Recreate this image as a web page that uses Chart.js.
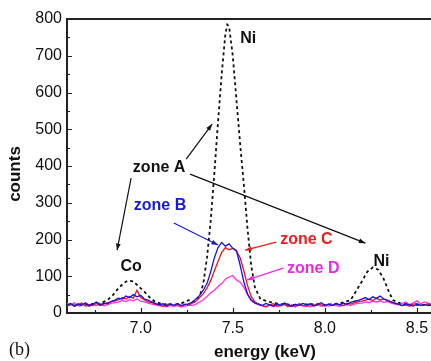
<!DOCTYPE html>
<html>
<head>
<meta charset="utf-8">
<script src="https://cdn.jsdelivr.net/npm/chart.js@4/dist/chart.umd.min.js"></script>
<style>
  html, body { margin: 0; padding: 0; background: #fff; }
  #wrap { width: 431px; height: 361px; overflow: hidden; position: relative; }
</style>
</head>
<body>
<div id="wrap"><canvas id="spectrum" width="470" height="361"></canvas></div>
<script>
// EDX spectra around the Co / Ni K lines, four zones

// energy grid (keV) for zones B, C, D
const energy = [
    6.60, 6.62, 6.64, 6.66, 6.68, 6.70, 6.72, 6.74, 6.76, 6.78,
    6.80, 6.82, 6.84, 6.86, 6.88, 6.90, 6.92, 6.94, 6.96, 6.98,
    7.00, 7.02, 7.04, 7.06, 7.08, 7.10, 7.12, 7.14, 7.16, 7.18,
    7.20, 7.22, 7.24, 7.26, 7.28, 7.30, 7.32, 7.34, 7.36, 7.38,
    7.40, 7.42, 7.44, 7.46, 7.48, 7.50, 7.52, 7.54, 7.56, 7.58,
    7.60, 7.62, 7.64, 7.66, 7.68, 7.70, 7.72, 7.74, 7.76, 7.78,
    7.80, 7.82, 7.84, 7.86, 7.88, 7.90, 7.92, 7.94, 7.96, 7.98,
    8.00, 8.02, 8.04, 8.06, 8.08, 8.10, 8.12, 8.14, 8.16, 8.18,
    8.20, 8.22, 8.24, 8.26, 8.28, 8.30, 8.32, 8.34, 8.36, 8.38,
    8.40, 8.42, 8.44, 8.46, 8.48, 8.50, 8.52, 8.54, 8.56, 8.58
];

const zoneB = [
    22, 26, 19, 25, 21, 28, 20, 24, 30, 22,
    27, 25, 32, 35, 40, 38, 46, 42, 50, 44,
    48, 38, 35, 30, 26, 22, 25, 19, 24, 21,
    26, 20, 23, 25, 30, 38, 48, 62, 80, 112,
    150, 178, 192, 182, 188, 176, 170, 130, 85, 52,
    35, 28, 24, 20, 26, 22, 19, 25, 21, 27,
    23, 18, 24, 20, 26, 22, 25, 19, 23, 28,
    21, 24, 20, 26, 22, 27, 24, 29, 32, 34,
    38, 42, 36, 44, 40, 46, 38, 35, 30, 27,
    24, 20, 25, 22, 19, 24, 21, 23, 20, 22
];

const zoneC = [
    20, 24, 18, 22, 27, 19, 23, 21, 26, 20,
    24, 28, 30, 33, 36, 42, 38, 45, 40, 62,
    42, 36, 30, 28, 24, 22, 18, 22, 26, 20,
    23, 19, 24, 21, 27, 32, 42, 52, 68, 88,
    115, 140, 165, 178, 172, 176, 168, 150, 115, 75,
    45, 30, 24, 20, 16, 22, 25, 18, 21, 24,
    17, 22, 19, 25, 21, 18, 23, 20, 26, 22,
    19, 24, 21, 25, 23, 20, 26, 24, 28, 30,
    32, 35, 38, 34, 40, 36, 38, 33, 30, 26,
    24, 20, 22, 18, 24, 26, 20, 23, 25, 22
];

const zoneD = [
    26, 22, 28, 20, 24, 21, 18, 22, 20, 25,
    19, 23, 26, 28, 30, 34, 31, 36, 33, 38,
    32, 30, 27, 24, 22, 20, 19, 17, 21, 18,
    20, 16, 19, 22, 20, 24, 30, 36, 45, 55,
    62, 72, 80, 92, 98, 102, 90, 84, 70, 50,
    34, 26, 22, 20, 18, 22, 17, 21, 19, 23,
    18, 20, 16, 22, 19, 21, 17, 20, 23, 18,
    21, 19, 22, 20, 18, 21, 23, 20, 24, 26,
    27, 30, 28, 32, 30, 33, 29, 31, 27, 24,
    22, 26, 30, 22, 28, 33, 25, 30, 27, 24
];

// zone A is sampled on its own grid
const energyA = [
    6.60, 6.66, 6.72, 6.78, 6.82, 6.85, 6.88, 6.91, 6.93, 6.96,
    6.99, 7.02, 7.05, 7.08, 7.12, 7.18, 7.22, 7.26, 7.29, 7.32,
    7.34, 7.36, 7.38, 7.40, 7.42, 7.44, 7.46, 7.47, 7.48, 7.50,
    7.52, 7.54, 7.56, 7.58, 7.60, 7.62, 7.65, 7.70, 7.76, 7.84,
    7.92, 8.00, 8.08, 8.14, 8.17, 8.20, 8.23, 8.26, 8.29, 8.32,
    8.35, 8.37, 8.42, 8.50, 8.58
];
const zoneA = [
    22, 20, 24, 26, 35, 49, 68, 82, 88, 86,
    72, 58, 42, 30, 24, 22, 26, 35, 30, 45,
    80, 150, 250, 380, 520, 650, 760, 785, 780, 700,
    580, 460, 350, 230, 130, 70, 38, 30, 24, 22,
    24, 22, 26, 35, 60, 85, 112, 124, 118, 92,
    55, 35, 24, 22, 22
];

const xTicks = [7.0, 7.5, 8.0, 8.5];
const yTicks = [0, 100, 200, 300, 400, 500, 600, 700, 800];

// labels and arrows, placed in data units [energy, counts]
const labels = [
    { text: 'Ni', at: [7.54, 748], color: '#111', align: 'left' },
    { text: 'zone A', at: [7.10, 397], color: '#111', align: 'center' },
    { text: 'zone B', at: [7.105, 291], color: '#1818d8', align: 'center' },
    { text: 'Co', at: [6.948, 125], color: '#111', align: 'center' },
    { text: 'zone C', at: [7.90, 199], color: '#ee1c1c', align: 'center' },
    { text: 'zone D', at: [7.937, 122], color: '#f025e6', align: 'center' },
    { text: 'Ni', at: [8.307, 141], color: '#111', align: 'center' }
];
const arrows = [
    { from: [7.247, 419], to: [7.388, 514], color: '#111' },
    { from: [6.948, 367], to: [6.872, 171], color: '#111' },
    { from: [7.268, 378], to: [8.22, 190], color: '#111' },
    { from: [7.18, 245], to: [7.42, 185], color: '#1818d8' },
    { from: [7.736, 193], to: [7.567, 171], color: '#ee1c1c' },
    { from: [7.774, 122], to: [7.578, 90], color: '#f025e6' }
];

const toPoints = (xs, ys) => xs.map((x, i) => ({ x: x, y: ys[i] }));

// inward ticks, top frame line, annotations and axis titles
const decorations = {
    id: 'decorations',
    afterDraw(chart) {
        const ctx = chart.ctx;
        const area = chart.chartArea;
        const xs = chart.scales.x;
        const ys = chart.scales.y;
        ctx.save();

        ctx.strokeStyle = '#222';
        ctx.lineWidth = 2;
        ctx.beginPath();
        ctx.moveTo(area.left - 1, area.top);
        ctx.lineTo(area.right, area.top);
        ctx.stroke();

        ctx.lineWidth = 1.2;
        ctx.beginPath();
        for (let v = 0; v <= 800; v += 50) {
            const py = Math.round(ys.getPixelForValue(v)) + 0.5;
            const len = v % 100 === 0 ? 5 : 3;
            ctx.moveTo(area.left, py);
            ctx.lineTo(area.left + len, py);
        }
        for (let e = 6.75; e <= 8.75; e += 0.25) {
            const px = Math.round(xs.getPixelForValue(e)) + 0.5;
            const len = Math.abs(e * 2 - Math.round(e * 2)) < 1e-6 ? 5 : 3;
            ctx.moveTo(px, area.bottom);
            ctx.lineTo(px, area.bottom - len);
        }
        ctx.stroke();

        arrows.forEach(a => {
            const x1 = xs.getPixelForValue(a.from[0]);
            const y1 = ys.getPixelForValue(a.from[1]);
            const x2 = xs.getPixelForValue(a.to[0]);
            const y2 = ys.getPixelForValue(a.to[1]);
            const ang = Math.atan2(y2 - y1, x2 - x1);
            ctx.strokeStyle = a.color;
            ctx.fillStyle = a.color;
            ctx.lineWidth = 1.2;
            ctx.beginPath();
            ctx.moveTo(x1, y1);
            ctx.lineTo(x2, y2);
            ctx.stroke();
            ctx.beginPath();
            ctx.moveTo(x2, y2);
            ctx.lineTo(x2 - 7 * Math.cos(ang - 0.35), y2 - 7 * Math.sin(ang - 0.35));
            ctx.lineTo(x2 - 7 * Math.cos(ang + 0.35), y2 - 7 * Math.sin(ang + 0.35));
            ctx.closePath();
            ctx.fill();
        });

        ctx.textBaseline = 'middle';
        ctx.font = 'bold 16px "Liberation Sans", Arial, sans-serif';
        labels.forEach(l => {
            ctx.fillStyle = l.color;
            ctx.textAlign = l.align;
            ctx.fillText(l.text, xs.getPixelForValue(l.at[0]), ys.getPixelForValue(l.at[1]));
        });

        ctx.fillStyle = '#111';
        ctx.font = 'bold 17px "Liberation Sans", Arial, sans-serif';
        ctx.textAlign = 'center';
        ctx.fillText('energy (keV)', (area.left + area.right) / 2, 352);
        ctx.save();
        ctx.translate(15, 174);
        ctx.rotate(-Math.PI / 2);
        ctx.fillText('counts', 0, 0);
        ctx.restore();

        ctx.font = '18px "Liberation Serif", "Times New Roman", serif';
        ctx.textAlign = 'left';
        ctx.fillText('(b)', 9, 350);

        ctx.restore();
    }
};

new Chart(document.getElementById('spectrum'), {
    type: 'line',
    data: {
        datasets: [
            { label: 'zone B', data: toPoints(energy, zoneB), borderColor: '#1212e0', borderWidth: 1.3, order: 1 },
            { label: 'zone C', data: toPoints(energy, zoneC), borderColor: '#f01414', borderWidth: 1.3, order: 2 },
            { label: 'zone D', data: toPoints(energy, zoneD), borderColor: '#ff30f0', borderWidth: 1.3, order: 3 },
            { label: 'zone A', data: toPoints(energyA, zoneA), borderColor: '#111', borderWidth: 1.8, borderDash: [3, 3], order: 4 }
        ]
    },
    options: {
        responsive: false,
        animation: false,
        devicePixelRatio: 1,
        layout: { padding: { top: 19, right: 7, left: 0, bottom: 0 } },
        elements: { point: { radius: 0 }, line: { tension: 0 } },
        plugins: { legend: { display: false }, tooltip: { enabled: false } },
        scales: {
            x: {
                type: 'linear',
                min: 6.6,
                max: 8.75,
                afterBuildTicks: s => { s.ticks = xTicks.map(v => ({ value: v })); },
                afterFit: s => { s.height = 48; },
                grid: { display: false, drawTicks: false },
                border: { display: true, color: '#222', width: 2 },
                ticks: {
                    padding: 6,
                    color: '#111',
                    font: { family: '"Liberation Sans", Arial, sans-serif', size: 16 },
                    callback: v => v.toFixed(1)
                }
            },
            y: {
                min: 0,
                max: 800,
                afterBuildTicks: s => { s.ticks = yTicks.map(v => ({ value: v })); },
                afterFit: s => { s.width = 67; },
                grid: { display: false, drawTicks: false },
                border: { display: true, color: '#222', width: 2 },
                ticks: {
                    padding: 5,
                    color: '#111',
                    font: { family: '"Liberation Sans", Arial, sans-serif', size: 16 }
                }
            }
        }
    },
    plugins: [decorations]
});
</script>
</body>
</html>
